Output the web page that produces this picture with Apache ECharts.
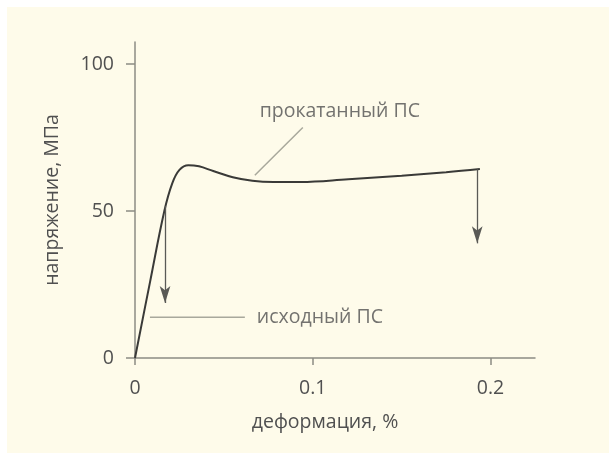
<!DOCTYPE html>
<html>
<head>
<meta charset="utf-8">
<script src="https://cdn.jsdelivr.net/npm/echarts@6/dist/echarts.min.js"></script>
<style>
  html, body { margin: 0; padding: 0; background: #ffffff; }
  #chart { width: 609px; height: 453px; }
</style>
</head>
<body>
<div id="chart"></div>
<script>
// stress-strain curve of rolled polystyrene
const strain = [0, 0.0085, 0.0165, 0.021, 0.025, 0.03, 0.036, 0.044, 0.055, 0.066, 0.078, 0.093, 0.12, 0.15, 0.175, 0.194];
const stress = [0, 26, 50, 59.5, 64, 65.6, 65.2, 63.6, 61.5, 60.3, 59.9, 59.9, 60.8, 62, 63.2, 64.3];

// failure arrows: x, start stress, end stress
const arrowX = [0.0169, 0.1925];
const arrowFrom = [51.7, 64.2];
const arrowTo = [18.7, 39];

// annotation texts and their leader lines
const labelNames = ["прокатанный ПС", "исходный ПС"];
const labelX = [0.1152, 0.0685];
const labelY = [84, 13.9];
const leaderX = [[0.0944, 0.0674], [0.0084, 0.0618]];
const leaderY = [[78.4, 62.2], [13.9, 13.9]];

const textColor = "#505050";
const axisColor = "#8c8c84";
const font = "'Open Sans', sans-serif";
const fontSize = 19.5;

const chart = echarts.init(document.getElementById("chart"));

const leaderSeries = leaderX.map((xs, i) => ({
  type: "line",
  data: xs.map((x, j) => [x, leaderY[i][j]]),
  symbol: "none",
  silent: true,
  lineStyle: { color: "#a8a89c", width: 1.5 },
  z: 1,
}));

chart.setOption({
  backgroundColor: "#ffffff",
  animation: false,
  graphic: [
    {
      type: "rect",
      z: -10,
      shape: { x: 7, y: 7, width: 602, height: 446 },
      style: { fill: "#fefbea" },
    },
  ],
  grid: { left: 135, top: 42, right: 74, bottom: 95 },
  xAxis: {
    type: "value",
    min: 0,
    max: 0.225,
    interval: 0.1,
    name: "деформация, %",
    nameLocation: "middle",
    nameGap: 54,
    nameTextStyle: { color: textColor, fontSize: fontSize, fontFamily: font, padding: [0, 20, 0, 0] },
    axisLine: { lineStyle: { color: axisColor, width: 1.5 } },
    axisTick: { show: true, length: 7, lineStyle: { color: axisColor, width: 1.5 } },
    axisLabel: {
      color: textColor,
      fontSize: fontSize,
      fontFamily: font,
      margin: 20,
      showMaxLabel: false,
      formatter: (v) => (v === 0 ? "0" : String(Math.round(v * 10) / 10)),
    },
    splitLine: { show: false },
  },
  yAxis: {
    type: "value",
    min: 0,
    max: 107.5,
    interval: 50,
    name: "напряжение, МПа",
    nameLocation: "middle",
    nameGap: 73,
    nameTextStyle: { color: textColor, fontSize: fontSize, fontFamily: font },
    axisLine: { show: true, lineStyle: { color: axisColor, width: 1.5 } },
    axisTick: { show: true, length: 9, lineStyle: { color: axisColor, width: 1.5 } },
    axisLabel: { color: textColor, fontSize: fontSize, fontFamily: font, margin: 21, showMaxLabel: false },
    splitLine: { show: false },
  },
  series: [
    ...leaderSeries,
    {
      type: "line",
      data: strain.map((x, i) => [x, stress[i]]),
      smooth: 0.4,
      symbol: "none",
      lineStyle: { color: "#3a3a38", width: 2 },
      z: 3,
      markLine: {
        silent: true,
        symbol: ["none", "arrow"],
        symbolSize: [8, 17],
        label: { show: false },
        lineStyle: { color: "#5a5a56", width: 1.3, type: "solid" },
        emphasis: { disabled: true },
        data: arrowX.map((x, i) => [
          { coord: [x, arrowFrom[i]] },
          { coord: [x, arrowTo[i]] },
        ]),
      },
    },
    {
      type: "scatter",
      symbolSize: 0,
      silent: true,
      data: labelNames.map((n, i) => ({ name: n, value: [labelX[i], labelY[i]] })),
      label: {
        show: true,
        position: "inside",
        color: textColor,
        fontSize: fontSize,
        fontFamily: font,
        formatter: (p) => p.name,
      },
      labelLayout: (p) => (p.dataIndex === 1 ? { align: "left" } : {}),
    },
  ],
});
</script>
</body>
</html>
